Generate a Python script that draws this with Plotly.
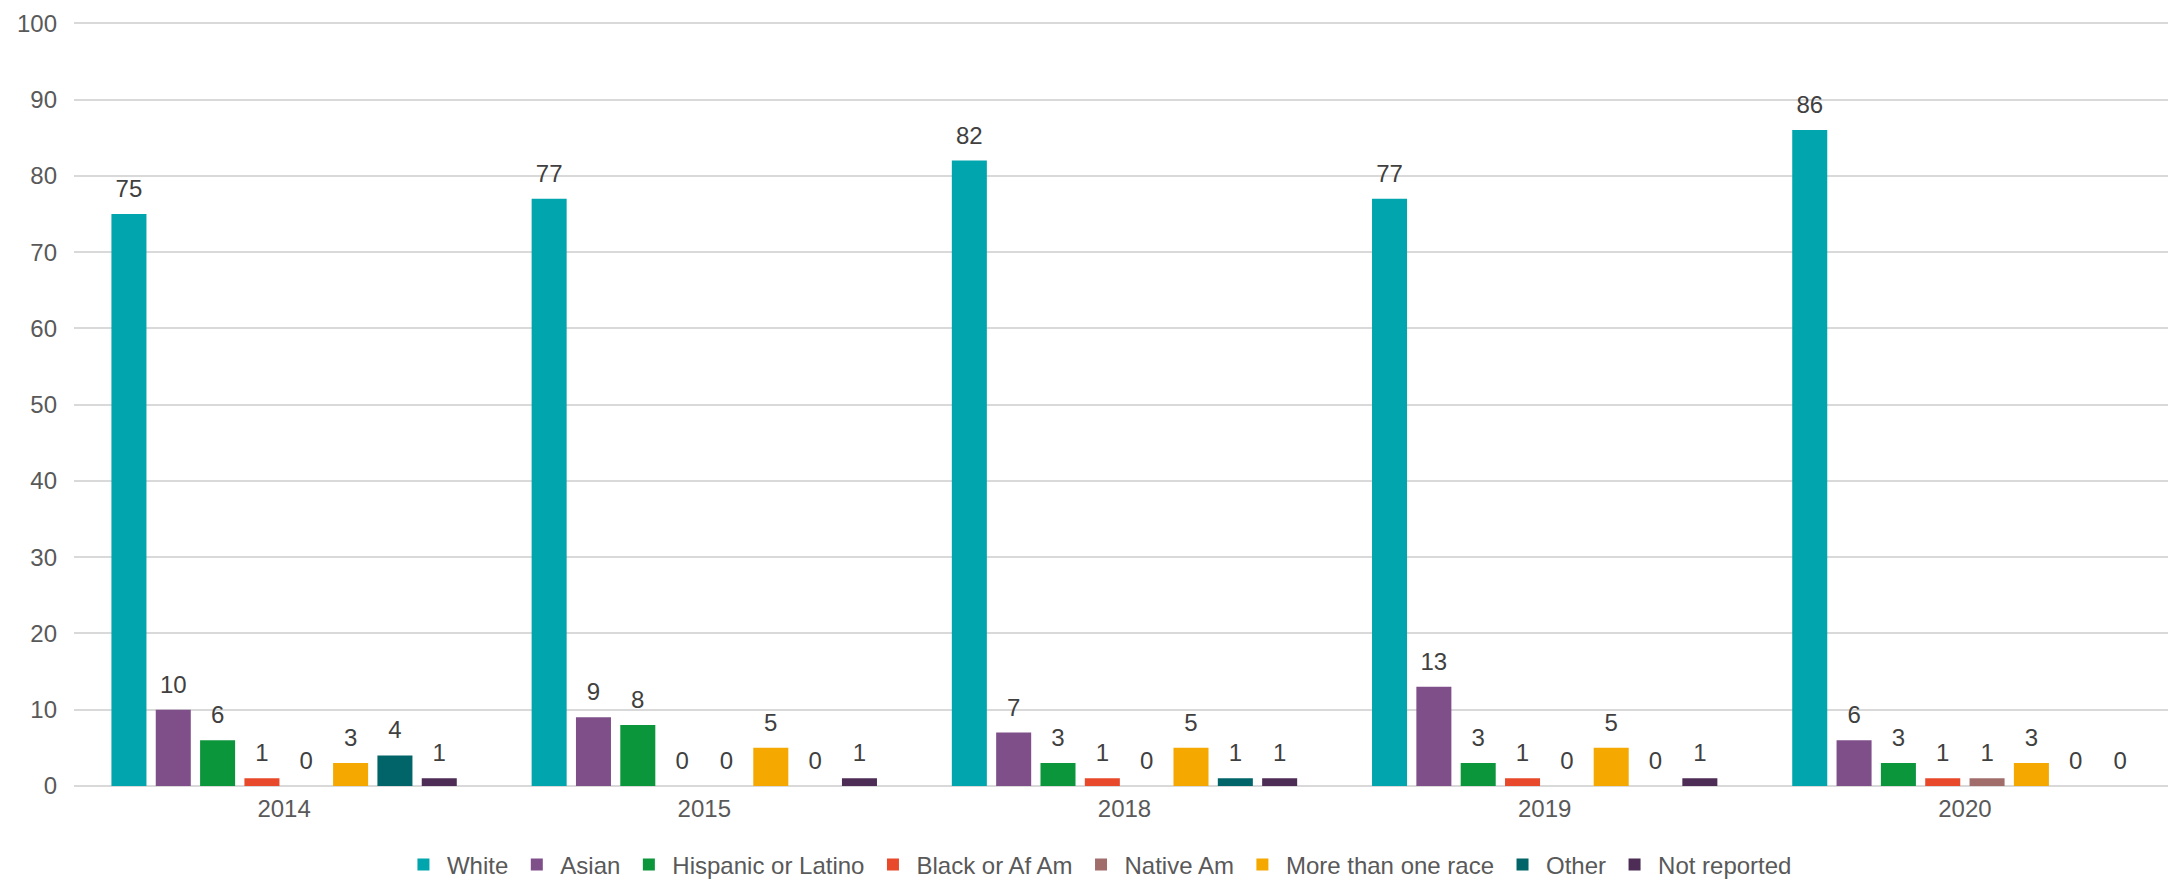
import plotly.graph_objects as go

years = ["2014", "2015", "2018", "2019", "2020"]
series_names = ["White", "Asian", "Hispanic or Latino", "Black or Af Am",
                "Native Am", "More than one race", "Other", "Not reported"]
white = [75, 77, 82, 77, 86]
asian = [10, 9, 7, 13, 6]
hispanic = [6, 8, 3, 3, 3]
black = [1, 0, 1, 1, 1]
native = [0, 0, 0, 0, 1]
multi = [3, 5, 5, 5, 3]
other = [4, 0, 1, 0, 0]
not_reported = [1, 1, 1, 1, 0]
y_ticks = [0, 10, 20, 30, 40, 50, 60, 70, 80, 90, 100]

colors = ["#00A5AE", "#7F4F8A", "#0C963C", "#E8492A",
          "#A06D6B", "#F4A800", "#006468", "#4D2C55"]
series_values = [white, asian, hispanic, black, native, multi, other, not_reported]

FONT = "Liberation Sans, Arial, sans-serif"
BARGAP = 0.156

fig = go.Figure()
for name, vals, col in zip(series_names, series_values, colors):
    fig.add_trace(go.Bar(
        x=years, y=vals, name=name,
        marker=dict(color=col, line=dict(width=0)),
        hoverinfo="skip",
    ))

# value labels, grouped the same way as the bars
for name, vals in zip(series_names, series_values):
    fig.add_trace(go.Scatter(
        x=years, y=vals, name=name + " labels",
        mode="markers+text",
        marker=dict(size=16, opacity=0, color="white"),
        text=[str(v) for v in vals],
        textposition="top center",
        textfont=dict(family=FONT, size=24, color="#404040"),
        showlegend=False,
        hoverinfo="skip",
        cliponaxis=False,
    ))

# the page body adds an 8px offset, so the figure is 8px smaller each way
fig.update_layout(
    width=2168, height=871,
    barmode="group",
    bargap=BARGAP,
    bargroupgap=0.21,
    scattermode="group",
    scattergap=BARGAP,
    plot_bgcolor="white",
    paper_bgcolor="white",
    margin=dict(l=66, r=1, t=13, b=93, autoexpand=False),
    font=dict(family=FONT, size=24, color="#595959"),
    legend=dict(
        orientation="h",
        x=0.4876, xanchor="center",
        y=-0.1033, yanchor="middle",
        font=dict(family=FONT, size=24, color="#595959"),
        itemclick=False,
        itemwidth=37,
        traceorder="normal",
    ),
    xaxis=dict(
        showgrid=False, showline=False, zeroline=False, automargin=False,
        ticks="", ticklabelstandoff=6,
        tickfont=dict(family=FONT, size=24, color="#595959"),
    ),
    yaxis=dict(
        range=[0, 100.3],
        tickvals=y_ticks,
        showgrid=True, gridcolor="#D9D9D9", gridwidth=2,
        zeroline=True, zerolinecolor="#D9D9D9", zerolinewidth=2,
        showline=False, ticks="", automargin=False,
        ticklabelstandoff=16,
        ticklabeloverflow="allow",
        tickfont=dict(family=FONT, size=24, color="#595959"),
    ),
)

fig.write_html("out.html")
